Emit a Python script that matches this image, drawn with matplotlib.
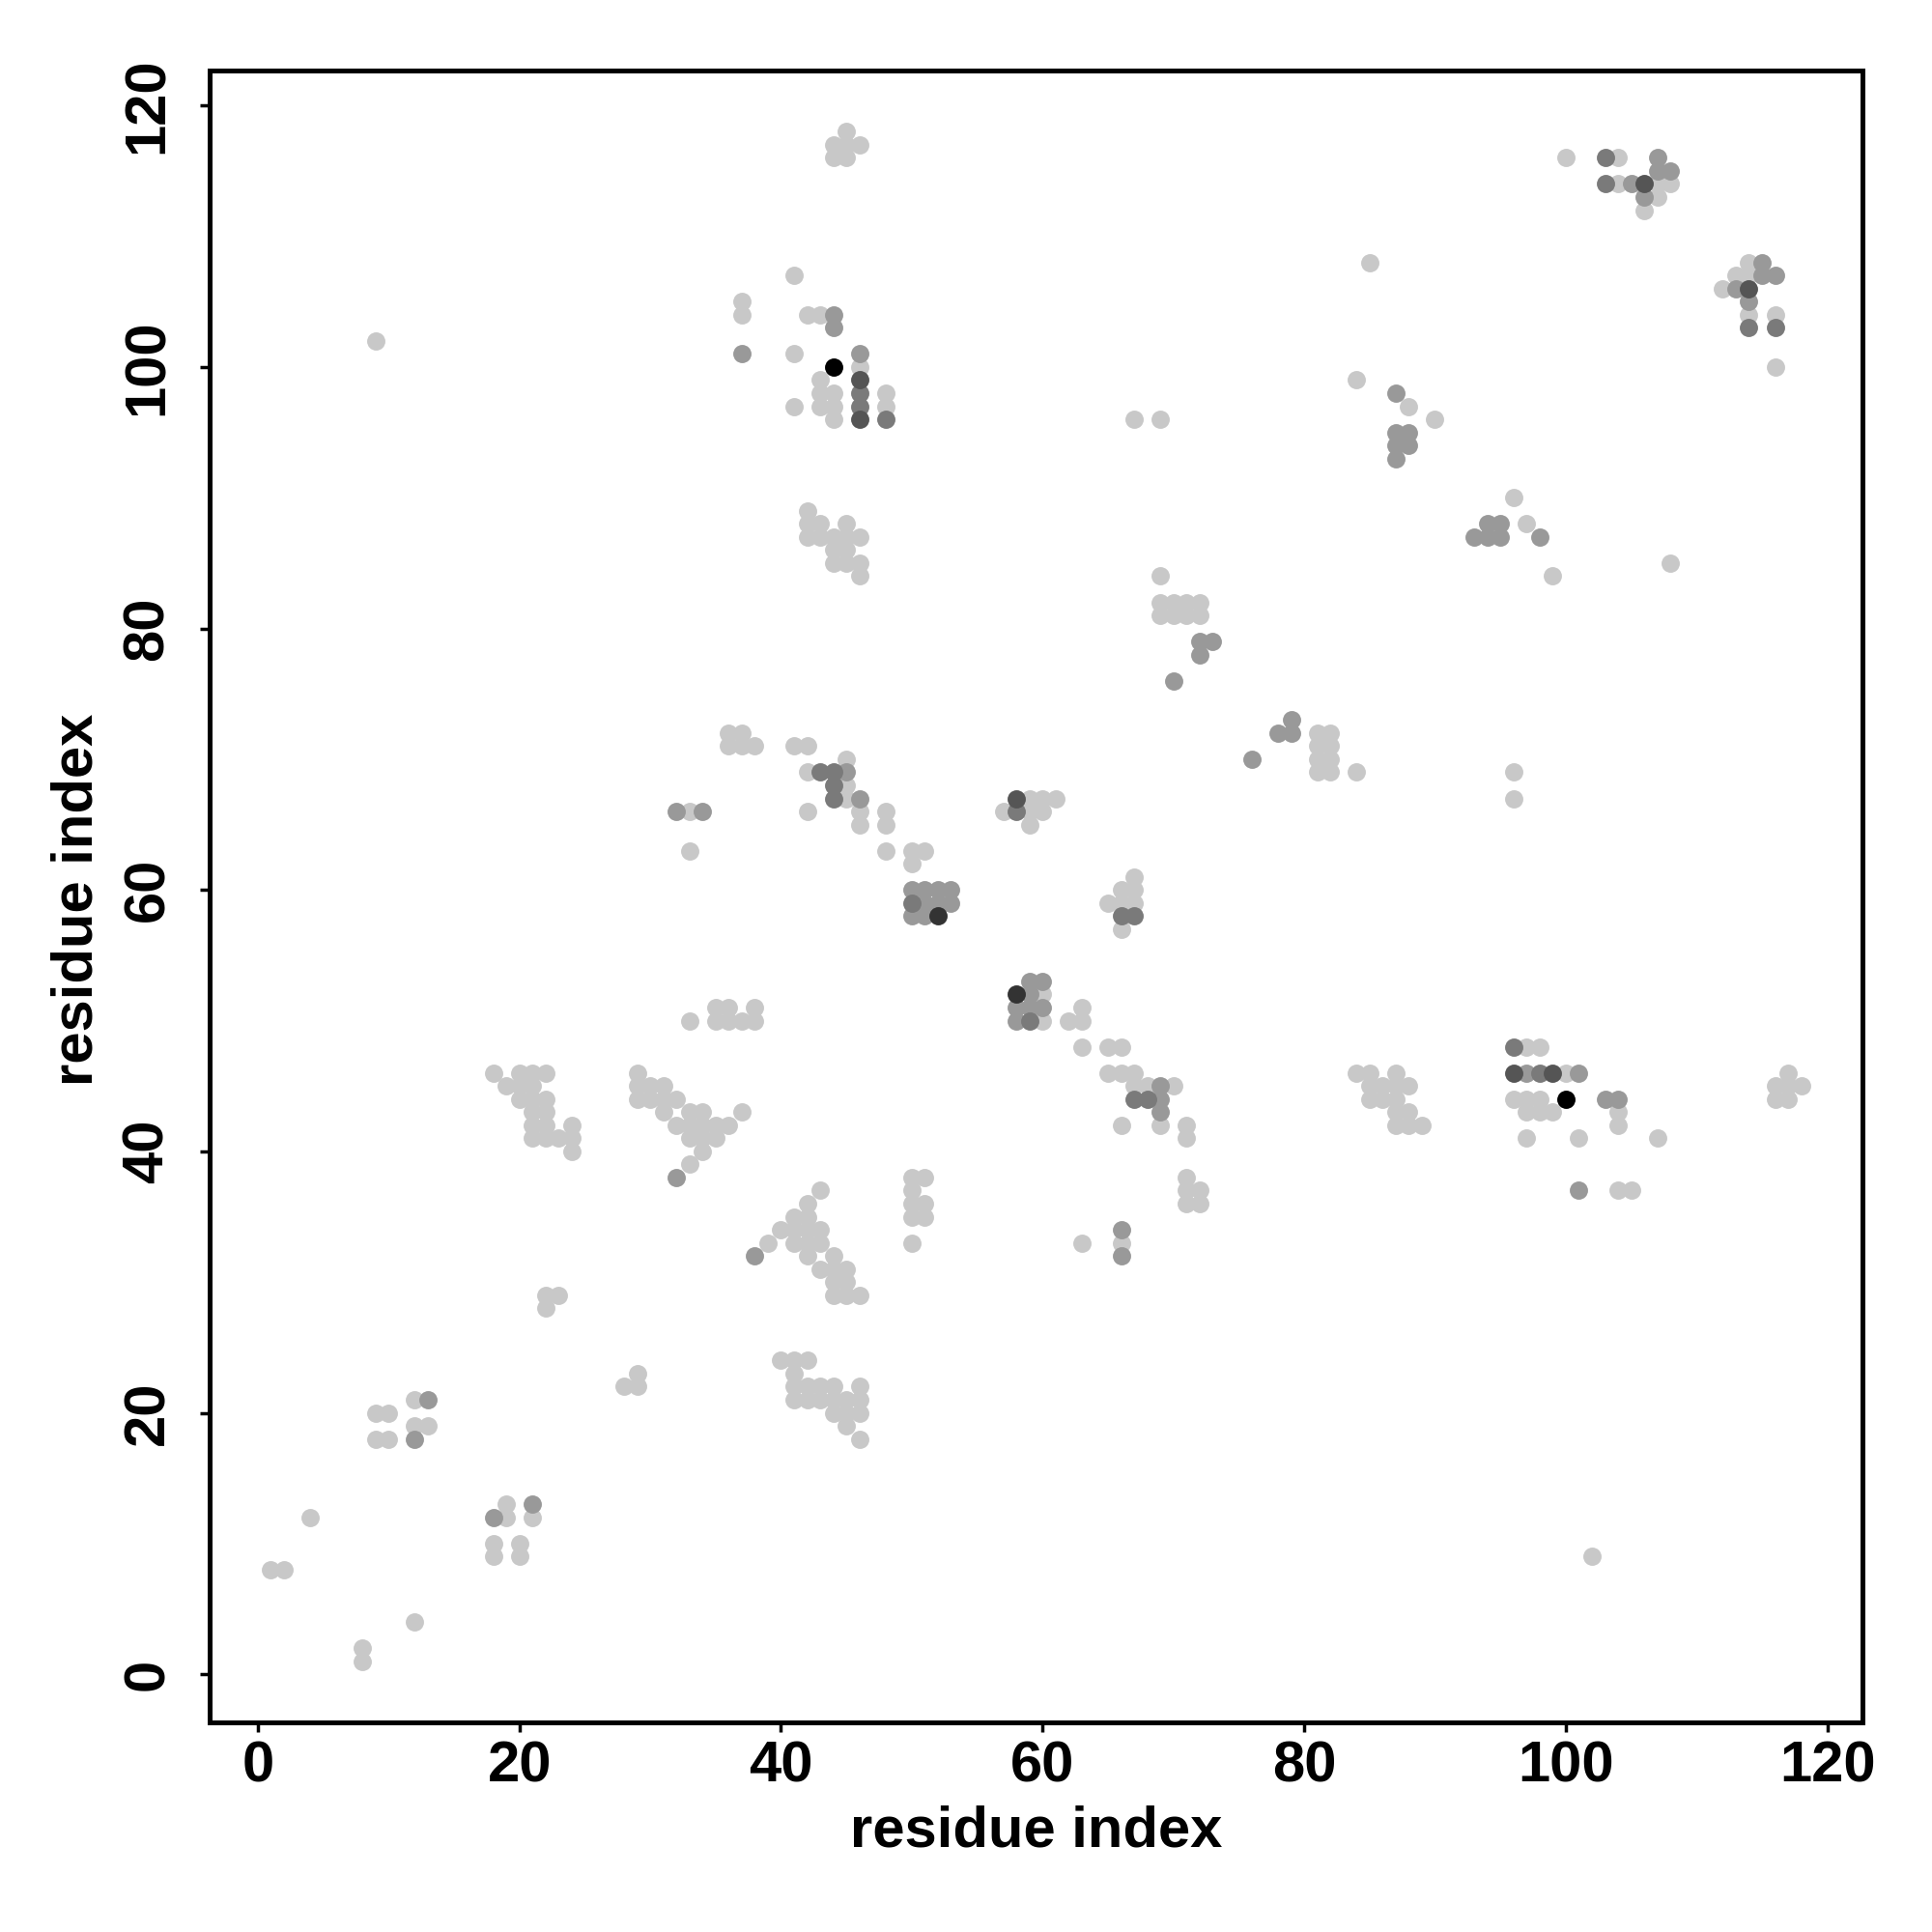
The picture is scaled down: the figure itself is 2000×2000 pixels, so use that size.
import numpy as np
import matplotlib.pyplot as plt

# contact pairs (residue i, residue j), grouped by grey shade
light = [
    (9, 102), (37, 105), (37, 104),
    (45, 118), (44, 117), (45, 117), (46, 117), (44, 116), (45, 116),
    (41, 107), (42, 104), (43, 104), (41, 101), (46, 100), (43, 99), (43, 98),
    (44, 98), (43, 97), (44, 97), (44, 96), (41, 97), (48, 98), (48, 97),
    (67, 96), (69, 96),
    (100, 116), (104, 116), (104, 114), (107, 114), (108, 114), (107, 113),
    (106, 112), (85, 108), (114, 108), (113, 107), (114, 107), (112, 106),
    (114, 104), (116, 104), (116, 100), (84, 99), (88, 97), (90, 96),
    (36, 72), (37, 72), (36, 71), (37, 71), (38, 71), (33, 66), (33, 63),
    (42, 89), (42, 88), (43, 88), (45, 88), (42, 87), (43, 87), (44, 87),
    (45, 87), (46, 87), (44, 86), (45, 86), (44, 85), (45, 85), (46, 85),
    (46, 84),
    (69, 84), (69, 82), (70, 82), (71, 82), (72, 82), (69, 81), (70, 81),
    (71, 81), (72, 81),
    (41, 71), (42, 71), (45, 70), (42, 69), (45, 68), (45, 67), (42, 66),
    (46, 66), (46, 65), (48, 66), (48, 65), (48, 63), (50, 63), (51, 63),
    (50, 62),
    (57, 66), (59, 67), (60, 67), (61, 67), (59, 66), (60, 66), (59, 65),
    (67, 61), (66, 60), (67, 60), (65, 59), (66, 59), (67, 59),
    (96, 90), (97, 88), (108, 85), (99, 84),
    (81, 72), (82, 72), (81, 71), (82, 71), (81, 70), (82, 70), (81, 69),
    (82, 69), (84, 69), (96, 69), (96, 67),
    (33, 50), (35, 51), (36, 51), (38, 51), (35, 50), (36, 50), (37, 50),
    (38, 50),
    (18, 46), (20, 46), (21, 46), (22, 46), (19, 45), (20, 45), (21, 45),
    (20, 44), (21, 44), (22, 44), (21, 43), (22, 43), (21, 42), (22, 42),
    (24, 42), (21, 41), (22, 41), (23, 41), (24, 41), (24, 40),
    (29, 46), (29, 45), (30, 45), (31, 45), (29, 44), (30, 44), (31, 44),
    (32, 44), (31, 43), (33, 43), (34, 43), (37, 43), (32, 42), (33, 42),
    (34, 42), (35, 42), (36, 42), (33, 41), (34, 41), (35, 41), (34, 40),
    (33, 39),
    (39, 33), (22, 29), (23, 29), (22, 28),
    (66, 57), (60, 52), (60, 50), (63, 51), (62, 50), (63, 50), (63, 48),
    (65, 48), (66, 48), (65, 46), (66, 46), (67, 46), (67, 45), (68, 45),
    (70, 45), (66, 42), (69, 42), (71, 42), (71, 41), (71, 38), (71, 37),
    (72, 37), (71, 36), (72, 36), (66, 33), (63, 33),
    (50, 38), (51, 38), (50, 37), (50, 36), (51, 36), (50, 35), (51, 35),
    (50, 33),
    (43, 37), (42, 36), (41, 35), (42, 35), (40, 34), (41, 34), (42, 34),
    (43, 34), (41, 33), (42, 33), (43, 33), (42, 32), (44, 32), (43, 31),
    (44, 31), (45, 31), (44, 30), (45, 30), (44, 29), (45, 29), (46, 29),
    (84, 46), (85, 46), (87, 46), (85, 45), (86, 45), (87, 45), (88, 45),
    (85, 44), (86, 44), (87, 44), (87, 43), (88, 43), (87, 42), (88, 42),
    (89, 42),
    (97, 48), (98, 48), (100, 46), (96, 44), (97, 44), (98, 44), (97, 43),
    (98, 43), (99, 43), (104, 43), (104, 42), (97, 41), (101, 41), (107, 41),
    (104, 37), (105, 37),
    (117, 46), (116, 45), (117, 45), (118, 45), (116, 44), (117, 44),
    (29, 23), (28, 22), (29, 22), (12, 21), (9, 20), (10, 20), (12, 19),
    (13, 19), (9, 18), (10, 18), (4, 12), (19, 13), (19, 12), (21, 12),
    (18, 10), (18, 9), (20, 10), (20, 9), (1, 8), (2, 8), (12, 4), (8, 2),
    (8, 1),
    (40, 24), (41, 24), (42, 24), (41, 23), (41, 22), (42, 22), (43, 22),
    (44, 22), (46, 22), (41, 21), (42, 21), (43, 21), (44, 21), (45, 21),
    (46, 21), (44, 20), (45, 20), (46, 20), (45, 19), (46, 18),
    (102, 9),
]

medium = [
    (37, 101), (44, 104), (44, 103), (46, 101), (107, 116), (107, 115),
    (108, 115), (105, 114), (106, 113), (115, 108), (115, 107), (116, 107),
    (113, 106), (114, 105),
    (87, 98), (87, 95), (88, 95), (87, 94), (88, 94), (87, 93),
    (34, 66), (32, 66),
    (70, 76), (79, 73), (78, 72), (79, 72), (76, 70),
    (45, 69), (46, 67), (72, 79), (73, 79), (72, 78),
    (50, 60), (51, 60), (52, 60), (53, 60), (51, 59), (52, 59), (53, 59),
    (50, 58), (51, 58),
    (94, 88), (95, 88), (93, 87), (94, 87), (95, 87), (98, 87),
    (32, 38), (38, 32),
    (59, 53), (60, 53), (59, 52), (58, 51), (59, 51), (60, 51), (58, 50),
    (69, 45), (69, 44), (69, 43), (66, 34), (66, 32),
    (97, 46), (101, 46), (103, 44), (104, 44), (101, 37),
    (13, 21), (12, 18), (18, 12), (21, 13),
]

dark = [
    (46, 98), (46, 97), (48, 96), (103, 116), (103, 114), (114, 103),
    (116, 103), (43, 69), (44, 69), (44, 68), (44, 67), (58, 66), (50, 59),
    (66, 58), (67, 58), (59, 50), (67, 44), (68, 44), (96, 48), (98, 46),
]

darker = [(46, 99), (46, 96), (106, 114), (114, 106), (96, 46), (99, 46), (58, 67)]

darkest = [(52, 58), (58, 52)]

black = [(44, 100), (100, 44)]

shades = [
    (light, "#c8c8c8"),
    (medium, "#999999"),
    (dark, "#7a7a7a"),
    (darker, "#555555"),
    (darkest, "#333333"),
    (black, "#000000"),
]

ticks = [0, 20, 40, 60, 80, 100, 120]

plt.rcParams["font.family"] = ["Liberation Sans", "DejaVu Sans"]
plt.rcParams["font.weight"] = "bold"

fig = plt.figure(figsize=(20, 20), dpi=100)
ax = fig.add_axes([0.1085, 0.1085, 0.8555, 0.855])

for pts, col in shades:
    arr = np.array(pts)
    ax.scatter(arr[:, 0], arr[:, 1], s=185, c=col, linewidths=0, zorder=2)

ax.set_xlim(-3.68, 122.68)
ax.set_ylim(-3.68, 122.68)
ax.set_xticks(ticks)
ax.set_yticks(ticks)

for side in ax.spines.values():
    side.set_linewidth(3.6)

ax.tick_params(axis="both", which="major", length=7, width=2.5,
               labelsize=43, direction="out")
ax.tick_params(axis="x", pad=6)
ax.tick_params(axis="y", pad=19, labelrotation=90)
for lab in ax.get_yticklabels():
    lab.set_va("center")
    lab.set_fontweight("bold")
for lab in ax.get_xticklabels():
    lab.set_fontweight("bold")

ax.set_xlabel("residue index", fontsize=43, fontweight="bold", va="center")
ax.set_ylabel("residue index", fontsize=43, fontweight="bold", va="center")
ax.xaxis.set_label_coords(0.500, -0.066)
ax.yaxis.set_label_coords(-0.080, 0.498)

fig.savefig("out.png", dpi=100, facecolor="white")
